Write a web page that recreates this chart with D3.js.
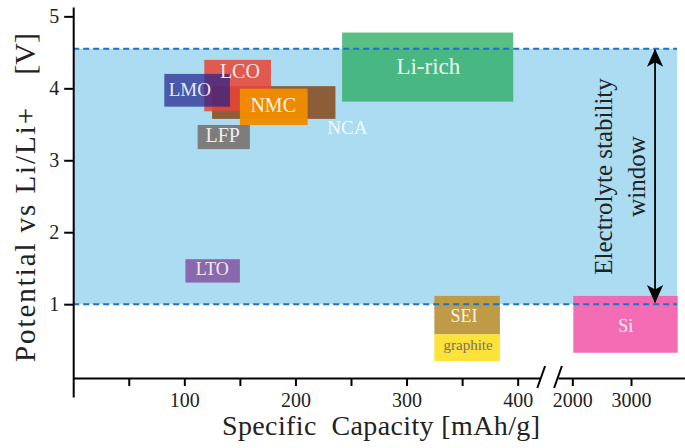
<!DOCTYPE html>
<html>
<head>
<meta charset="utf-8">
<script src="https://cdn.jsdelivr.net/npm/d3@7"></script>
<style>
  html, body { margin: 0; padding: 0; background: #fff; }
  svg { display: block; font-family: "Liberation Serif", "DejaVu Serif", serif; }
</style>
</head>
<body>
<div id="chart"></div>
<script>
// ---- data ----
const materials = ["NCA", "LCO", "LMO", "NMC", "LFP", "Li-rich", "LTO", "SEI", "graphite", "Si"];
const capLow  = [125, 118,  82, 150, 112, 242, 101, 325, 325, 2017];
const capHigh = [236, 178, 141, 211, 159, 396, 150, 384, 384, 3796];
const vLow    = [3.575, 3.68, 3.745, 3.49, 3.155, 3.815, 1.30, 0.58, 0.21, 0.325];
const vHigh   = [4.03, 4.395, 4.20, 3.995, 3.49, 4.775, 1.625, 1.115, 0.58, 1.115];
const labelCap = [246.7, 150, 105, 180, 134.6, 319.6, 125.2, 351.8, 355.4, 2910];
const labelV   = [3.45, 4.246, 3.987, 3.77, 3.35, 4.31, 1.488, 0.834, 0.431, 0.695];
const windowLow = 1.0, windowHigh = 4.55;
const windowCapEnd = 3785;
const arrowCap = 3410;
const yTicks = [1, 2, 3, 4, 5];
const xTicksLow = [50, 100, 150, 200, 250, 300, 350, 400];
const xTickLabelsLow = [100, 200, 300, 400];
const xTicksHigh = [2000, 3000];

// ---- styles ----
const fillColors = {
  "NCA": "#8b5d38", "LCO": "#e94334", "LMO": "#22208a", "NMC": "#f08c00",
  "LFP": "#7d7d7d", "Li-rich": "#2dad63", "LTO": "#8a68ad", "SEI": "#bf9b48",
  "graphite": "#fde23a", "Si": "#f35fae"
};
const fillOpacity = {
  "NCA": 1, "LCO": 0.85, "LMO": 0.7, "NMC": 0.97, "LFP": 1, "Li-rich": 0.78,
  "LTO": 1, "SEI": 1, "graphite": 1, "Si": 0.92
};
const labelSize = {
  "NCA": 19, "LCO": 20, "LMO": 19, "NMC": 20, "LFP": 20, "Li-rich": 23,
  "LTO": 18, "SEI": 18, "graphite": 15, "Si": 18
};

const W = 685, H = 448;
const svg = d3.select("#chart").append("svg").attr("width", W).attr("height", H);

// scales (broken x axis)
const x1 = d3.scaleLinear().domain([0, 420]).range([73.2, 539.9]);
const x2 = d3.scaleLinear().domain([1756, 3920]).range([558, 685]);
const xs = v => (v > 1000 ? x2(v) : x1(v));
const y = d3.scaleLinear().domain([-0.29, 5.13]).range([397, 7]);
const axisY = 378;

// stability window
svg.append("rect")
  .attr("x", x1(0)).attr("y", y(windowHigh))
  .attr("width", x2(windowCapEnd) - x1(0))
  .attr("height", y(windowLow) - y(windowHigh))
  .attr("fill", "#abdcf1");

// material boxes
const idx = d3.range(materials.length);
svg.append("g").selectAll("rect").data(idx).join("rect")
  .attr("x", i => xs(capLow[i]))
  .attr("y", i => y(vHigh[i]))
  .attr("width", i => xs(capHigh[i]) - xs(capLow[i]))
  .attr("height", i => y(vLow[i]) - y(vHigh[i]))
  .attr("fill", i => fillColors[materials[i]])
  .attr("fill-opacity", i => fillOpacity[materials[i]]);

svg.append("g").selectAll("text").data(idx).join("text")
  .attr("x", i => xs(labelCap[i]))
  .attr("y", i => y(labelV[i]))
  .attr("text-anchor", "middle")
  .attr("dominant-baseline", "central")
  .attr("font-size", i => labelSize[materials[i]])
  .attr("fill", i => materials[i] === "graphite" ? "#7a7060" : "#ffffff")
  .attr("fill-opacity", i => materials[i] === "graphite" ? 1 : 0.9)
  .text(i => materials[i]);

// dashed window boundaries
[windowLow, windowHigh].forEach(v => {
  svg.append("line")
    .attr("x1", x1(0)).attr("x2", x2(windowCapEnd))
    .attr("y1", y(v)).attr("y2", y(v))
    .attr("stroke", "#1f72c2").attr("stroke-width", 2)
    .attr("stroke-dasharray", "6,4");
});

// double arrow
const defs = svg.append("defs");
["start", "end"].forEach(k => {
  defs.append("marker")
    .attr("id", "arr-" + k)
    .attr("viewBox", "0 0 20 20")
    .attr("refX", 19).attr("refY", 10)
    .attr("markerWidth", 18).attr("markerHeight", 18)
    .attr("markerUnits", "userSpaceOnUse")
    .attr("orient", k === "start" ? "auto-start-reverse" : "auto")
    .append("path")
    .attr("d", "M0,1 L20,10 L0,19 L5,10 Z")
    .attr("fill", "#000");
});
svg.append("line")
  .attr("x1", x2(arrowCap)).attr("x2", x2(arrowCap))
  .attr("y1", y(windowHigh) + 1).attr("y2", y(windowLow) - 2)
  .attr("stroke", "#000").attr("stroke-width", 1.8)
  .attr("marker-start", "url(#arr-start)")
  .attr("marker-end", "url(#arr-end)");

// window label
const wl = svg.append("text")
  .attr("transform", `translate(${x2(arrowCap) - 43},${(y(windowHigh) + y(windowLow)) / 2}) rotate(-90)`)
  .attr("text-anchor", "middle")
  .attr("font-size", 25).attr("fill", "#222");
wl.append("tspan").attr("x", 0).attr("y", 0).text("Electrolyte stability");
wl.append("tspan").attr("x", 0).attr("y", 33).text("window");

// axes
const axStyle = g => {
  g.select(".domain").attr("stroke", "#000").attr("stroke-width", 2);
  g.selectAll(".tick line").attr("stroke", "#000").attr("stroke-width", 2);
  g.selectAll(".tick text").attr("font-size", 20).attr("fill", "#222")
    .attr("font-family", "Liberation Serif, serif");
};
svg.append("g").attr("transform", `translate(${x1(0)},0)`)
  .call(d3.axisLeft(y).tickValues(yTicks).tickSize(9).tickSizeOuter(0).tickPadding(5).tickFormat(d3.format("d")))
  .call(axStyle);
const gx1 = svg.append("g").attr("transform", `translate(0,${axisY})`)
  .call(d3.axisBottom(x1).tickValues(xTicksLow).tickSize(8).tickSizeOuter(0).tickPadding(7)
    .tickFormat(d => xTickLabelsLow.includes(d) ? d : ""))
  .call(axStyle);
gx1.selectAll(".tick text").filter(d => !xTickLabelsLow.includes(d)).remove();
svg.append("g").attr("transform", `translate(0,${axisY})`)
  .call(d3.axisBottom(x2).tickValues(xTicksHigh).tickSize(8).tickSizeOuter(0).tickPadding(7)
    .tickFormat(d3.format("d")))
  .call(axStyle);

// break marks
[x1.range()[1] + 1.3, x2.range()[0]].forEach(cx => {
  svg.append("line")
    .attr("x1", cx - 3.9).attr("y1", axisY + 10)
    .attr("x2", cx + 3.9).attr("y2", axisY - 12)
    .attr("stroke", "#000").attr("stroke-width", 2);
});

// axis titles
svg.append("text")
  .attr("x", 381).attr("y", 435)
  .attr("text-anchor", "middle")
  .attr("font-size", 28).attr("fill", "#222")
  .attr("textLength", 318).attr("lengthAdjust", "spacing")
  .attr("xml:space", "preserve")
  .text("Specific  Capacity [mAh/g]");

const yl = svg.append("g").attr("transform", "translate(35,0) rotate(-90)");
yl.append("text").attr("x", -362).attr("y", 0)
  .attr("text-anchor", "start").attr("font-size", 29).attr("fill", "#222")
  .attr("textLength", 254).attr("lengthAdjust", "spacing")
  .text("Potential vs Li/Li+");
yl.append("text").attr("x", -33).attr("y", 0)
  .attr("text-anchor", "end").attr("font-size", 30).attr("fill", "#222")
  .text("[V]");
</script>
</body>
</html>
